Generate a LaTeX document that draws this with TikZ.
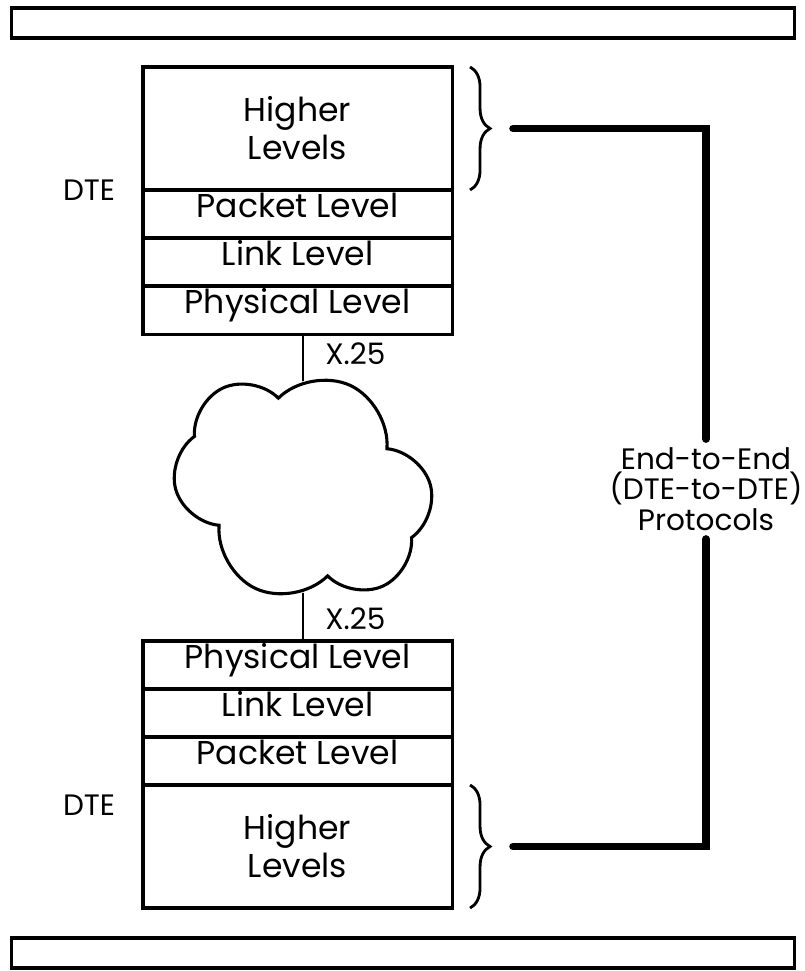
\documentclass[tikz,border=0pt]{standalone}
\usepackage{fontspec}
\setmainfont{Poppins}
\usetikzlibrary{positioning,decorations.pathreplacing,shapes.symbols}

\begin{document}
\begin{tikzpicture}[
  x=0.025cm, y=-0.025cm,
  node distance=0pt,
  box/.style={draw, line width=2.2pt, outer sep=0pt, inner sep=2pt,
    minimum width=7.725cm, font=\fontsize{23.5}{27}\selectfont},
  layer/.style={box, minimum height=1.2cm, text height=0.75em, text depth=0.25em},
  upper/.style={box, minimum height=3.075cm, align=center},
  bar/.style={draw, line width=2.2pt, minimum width=19.55cm, minimum height=0.75cm},
  lbl/.style={font=\fontsize{21}{21.5}\selectfont, inner sep=2pt},
  cloudy/.style={cloud, cloud puffs=6, cloud puff arc=140, cloud ignores aspect,
    rotate=-25, draw, line width=2.2pt,
    minimum width=6.6cm, minimum height=5.6cm},
  wire/.style={line width=1.4pt},
  curly/.style={decorate, decoration={brace, amplitude=0.5cm}, line width=2pt},
  bond/.style={line width=5.5pt, line cap=round},
]
  \useasboundingbox (0,0) rectangle (804,971);

  % Frames
  \node[bar] (top) at (403,23) {};
  \node[bar] (bot) at (403,953) {};

  % Upper DTE
  \node[upper] (hi1) at (297.5,128.5) {Higher\\Levels};
  \node[layer, below=of hi1] (pk1) {Packet Level};
  \node[layer, below=of pk1] (ln1) {Link Level};
  \node[layer, below=of ln1] (ph1) {Physical Level};
  \node[lbl, left=0.62cm of hi1.south west] (dte1) {DTE};

  % Lower DTE
  \node[upper] (hi2) at (297.5,846.5) {Higher\\Levels};
  \node[layer, above=of hi2] (pk2) {Packet Level};
  \node[layer, above=of pk2] (ln2) {Link Level};
  \node[layer, above=of ln2] (ph2) {Physical Level};
  \node[lbl, anchor=east] (dte2) at ([xshift=-0.62cm, yshift=-0.5cm]hi2.north west) {DTE};

  % Network
  \node[cloudy] (net) at (303,487) {};
  \draw[wire] (net.center |- ph1.south) -- (net);
  \draw[wire] (net) -- (net.center |- ph2.north);
  \node[lbl, anchor=north west] (x1) at ([xshift=0.48cm, yshift=-0.15cm]net.center |- ph1.south) {X.25};
  \node[lbl, anchor=south west] (x2) at ([xshift=0.48cm, yshift=0.2cm]net.center |- ph2.north) {X.25};

  % End-to-end bracket
  \node[lbl, align=center, inner ysep=6pt] (e2e) at (706,489) {End-to-End\\(DTE-to-DTE)\\Protocols};
  \draw[curly] ([xshift=0.45cm]hi1.north east) -- ([xshift=0.45cm]hi1.south east);
  \draw[curly] ([xshift=0.45cm]hi2.north east) -- ([xshift=0.45cm]hi2.south east);
  \coordinate (t1) at ([xshift=1.525cm]hi1.east);
  \coordinate (t2) at ([xshift=1.525cm]hi2.east);
  \draw[bond] (t1) -| (e2e.north);
  \draw[bond] (t2) -| (e2e.south);
\end{tikzpicture}
\end{document}
